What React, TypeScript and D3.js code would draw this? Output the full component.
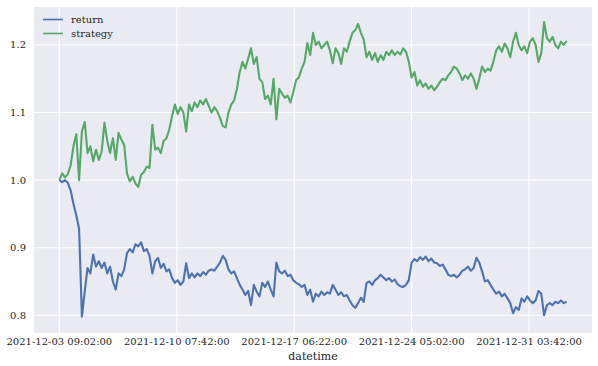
import React from "react";
import * as d3 from "d3";

const START = new Date(2021, 11, 3, 9, 2, 0);
const STEP_MIN = 240;

const strategy = [
  1.000, 1.010, 1.004, 1.009, 1.022, 1.050, 1.068, 1.000, 1.072, 1.086,
  1.040, 1.050, 1.028, 1.045, 1.030, 1.042, 1.085, 1.058, 1.040, 1.062,
  1.030, 1.070, 1.060, 1.052, 1.010, 0.998, 1.005, 0.995, 0.990, 1.008,
  1.012, 1.020, 1.018, 1.082, 1.045, 1.048, 1.040, 1.058, 1.062, 1.075,
  1.095, 1.112, 1.098, 1.108, 1.100, 1.072, 1.112, 1.102, 1.115, 1.108,
  1.118, 1.112, 1.120, 1.110, 1.100, 1.108, 1.102, 1.092, 1.080, 1.078,
  1.100, 1.112, 1.118, 1.135, 1.160, 1.175, 1.165, 1.180, 1.195, 1.172,
  1.182, 1.150, 1.145, 1.120, 1.125, 1.112, 1.150, 1.090, 1.135, 1.128,
  1.122, 1.125, 1.115, 1.130, 1.148, 1.152, 1.165, 1.175, 1.203, 1.185,
  1.218, 1.200, 1.205, 1.195, 1.200, 1.205, 1.192, 1.173, 1.195, 1.188,
  1.172, 1.195, 1.190, 1.205, 1.218, 1.222, 1.231, 1.218, 1.208, 1.182,
  1.190, 1.178, 1.188, 1.175, 1.185, 1.178, 1.190, 1.185, 1.192, 1.185,
  1.190, 1.186, 1.195, 1.190, 1.175, 1.152, 1.160, 1.140, 1.148, 1.138,
  1.143, 1.135, 1.140, 1.133, 1.138, 1.145, 1.150, 1.148, 1.155, 1.160,
  1.168, 1.165, 1.158, 1.148, 1.155, 1.150, 1.158, 1.150, 1.135, 1.150,
  1.168, 1.160, 1.165, 1.162, 1.175, 1.192, 1.198, 1.190, 1.202, 1.195,
  1.182, 1.205, 1.218, 1.200, 1.192, 1.198, 1.188, 1.205, 1.210, 1.200,
  1.175, 1.188, 1.234, 1.210, 1.205, 1.212, 1.200, 1.195, 1.205, 1.200,
  1.206,
];

const ret = [
  1.000, 0.997, 1.000, 0.996, 0.985, 0.965, 0.948, 0.928, 0.798, 0.835,
  0.870, 0.862, 0.890, 0.872, 0.880, 0.870, 0.878, 0.862, 0.872, 0.850,
  0.838, 0.862, 0.858, 0.868, 0.892, 0.898, 0.893, 0.905, 0.902, 0.908,
  0.895, 0.898, 0.888, 0.862, 0.880, 0.885, 0.870, 0.876, 0.865, 0.868,
  0.855, 0.848, 0.852, 0.845, 0.850, 0.877, 0.855, 0.862, 0.856, 0.862,
  0.858, 0.864, 0.860, 0.866, 0.868, 0.866, 0.872, 0.878, 0.888, 0.882,
  0.868, 0.862, 0.865, 0.855, 0.845, 0.838, 0.830, 0.836, 0.815, 0.845,
  0.835, 0.828, 0.848, 0.842, 0.850, 0.838, 0.828, 0.878, 0.865, 0.862,
  0.866, 0.858, 0.860, 0.852, 0.848, 0.846, 0.842, 0.845, 0.830, 0.838,
  0.820, 0.832, 0.828, 0.835, 0.830, 0.834, 0.832, 0.845, 0.838, 0.830,
  0.834, 0.828, 0.830, 0.822, 0.815, 0.811, 0.818, 0.826, 0.820, 0.848,
  0.850, 0.845, 0.852, 0.855, 0.860, 0.856, 0.852, 0.855, 0.850, 0.853,
  0.846, 0.843, 0.842, 0.845, 0.852, 0.878, 0.883, 0.880, 0.886, 0.882,
  0.887, 0.880, 0.884, 0.878, 0.877, 0.873, 0.875, 0.868, 0.860, 0.858,
  0.860, 0.856, 0.860, 0.866, 0.868, 0.872, 0.866, 0.870, 0.885, 0.878,
  0.865, 0.850, 0.852, 0.845, 0.838, 0.832, 0.835, 0.828, 0.832, 0.825,
  0.818, 0.803, 0.812, 0.808, 0.825, 0.820, 0.828, 0.822, 0.818, 0.822,
  0.836, 0.832, 0.800, 0.815, 0.818, 0.815, 0.820, 0.818, 0.822, 0.818,
  0.820,
];

const yTicks = [0.8, 0.9, 1.0, 1.1, 1.2];
const xTickMinutes = [0, 10000, 20000, 30000, 40000];
const seriesNames = ["return", "strategy"];
const colors = ["#4C72B0", "#55A868"];

const W = 598, H = 366;
const M = { left: 34, right: 6, top: 7, bottom: 33 };

const fmt = d3.timeFormat("%Y-%m-%d %H:%M:%S");

export default function App() {
  const n = ret.length - 1;
  const totalMin = n * STEP_MIN;
  const t = (m: number) => new Date(START.getTime() + m * 60000);
  const x = d3
    .scaleTime()
    .domain([t(-0.05 * totalMin), t(1.05 * totalMin)])
    .range([M.left, W - M.right]);
  const y = d3.scaleLinear().domain([0.7738, 1.2562]).range([H - M.bottom, M.top]);

  const line = d3
    .line<number>()
    .x((_, i) => x(t(i * STEP_MIN)))
    .y((d) => y(d));

  const font = "DejaVu Serif, serif";
  const textColor = "#262626";

  return (
    <svg width={W} height={H} style={{ position: "absolute", left: 0, top: 0, background: "#fff" }}>
      <rect x={M.left} y={M.top} width={W - M.left - M.right} height={H - M.top - M.bottom} fill="#EAEAF2" />
      <g>
        {yTicks.map((v) => (
          <line key={"gy" + v} x1={M.left} x2={W - M.right} y1={y(v)} y2={y(v)} stroke="#fff" strokeWidth={1.1} />
        ))}
        {xTickMinutes.map((m) => (
          <line key={"gx" + m} x1={x(t(m))} x2={x(t(m))} y1={M.top} y2={H - M.bottom} stroke="#fff" strokeWidth={1.1} />
        ))}
      </g>
      <g fontFamily={font} fontSize={10} fill={textColor}>
        {yTicks.map((v) => (
          <text key={"ty" + v} x={M.left - 8} y={y(v)} textAnchor="end" dominantBaseline="central">
            {d3.format(".1f")(v)}
          </text>
        ))}
        {xTickMinutes.map((m) => (
          <text key={"tx" + m} x={x(t(m))} y={H - M.bottom + 12} textAnchor="middle">
            {fmt(t(m))}
          </text>
        ))}
        <text x={(M.left + W - M.right) / 2} y={H - 6} textAnchor="middle" fontSize={11}>
          datetime
        </text>
      </g>
      <path d={line(ret) || ""} fill="none" stroke={colors[0]} strokeWidth={2.1} strokeLinejoin="round" />
      <path d={line(strategy) || ""} fill="none" stroke={colors[1]} strokeWidth={2.1} strokeLinejoin="round" />
      <g fontFamily={font} fontSize={10} fill={textColor}>
        {seriesNames.map((s, i) => (
          <g key={s} transform={`translate(0, ${19.5 + i * 14})`}>
            <line x1={43} x2={63} y1={0} y2={0} stroke={colors[i]} strokeWidth={1.6} />
            <text x={71} y={0} dominantBaseline="central">{s}</text>
          </g>
        ))}
      </g>
    </svg>
  );
}
